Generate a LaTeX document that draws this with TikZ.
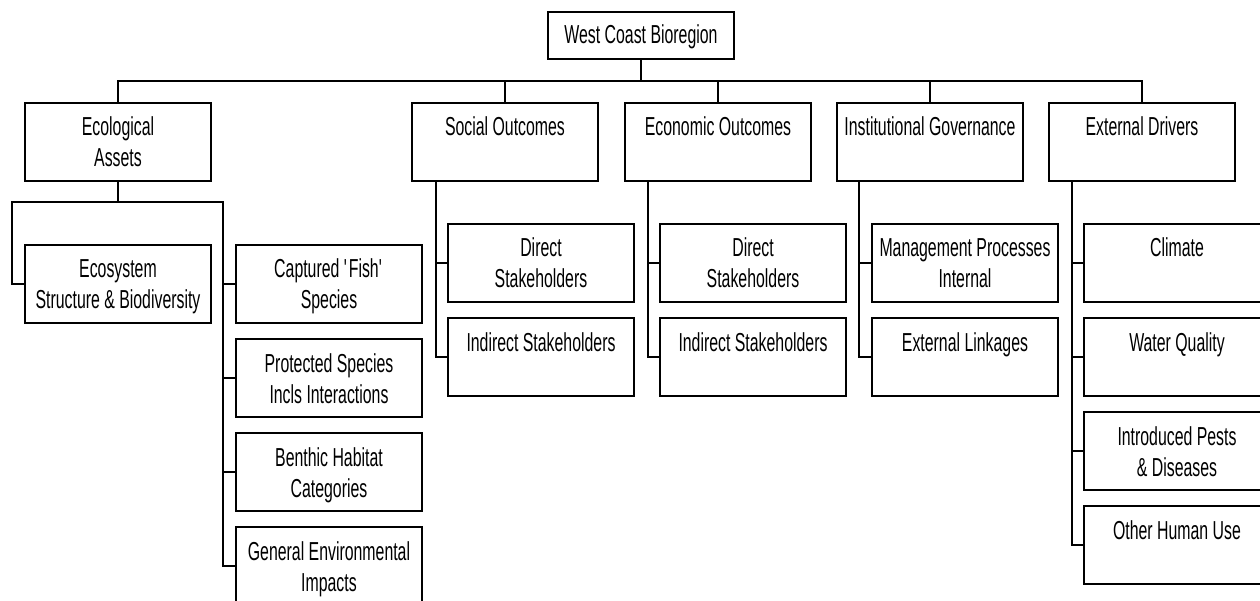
\documentclass[tikz,border=0pt]{standalone}
\usepackage{fontspec}
\setmainfont[FakeStretch=0.61]{Liberation Sans}
\newcommand\bxt[3]{\parbox[c][#1][t]{186pt}{\centering\rule{0pt}{#2}#3}}
\tikzset{
  box/.style={draw, line width=1.2pt, inner sep=0pt, outer sep=0pt, anchor=north west, fill=white,
    font=\fontsize{26}{31}\selectfont},
  conn/.style={line width=1.2pt}
}
\begin{document}
\begin{tikzpicture}[x=1pt,y=-1pt]
\useasboundingbox (0,0) rectangle (1260,601);
\clip (0,0) rectangle (1260,601);
% root
\node[box] (root) at (548,12) {\bxt{47pt}{32pt}{West Coast Bioregion}};
% level 1
\node[box] (eco) at (25,103) {\bxt{78pt}{33pt}{Ecological\\Assets}};
\node[box] (soc) at (412,103) {\bxt{78pt}{33pt}{Social Outcomes}};
\node[box] (econ) at (625,103) {\bxt{78pt}{33pt}{Economic Outcomes}};
\node[box] (inst) at (837,103) {\bxt{78pt}{33pt}{Institutional Governance}};
\node[box] (ext) at (1049,103) {\bxt{78pt}{33pt}{External Drivers}};
% ecological children
\node[box] (ecosys) at (25,245) {\bxt{78pt}{33pt}{Ecosystem\\Structure \& Biodiversity}};
\node[box] (fish) at (236,245) {\bxt{78pt}{33pt}{Captured \textquotesingle Fish\textquotesingle\\Species}};
\node[box] (prot) at (236,339) {\bxt{78pt}{33pt}{Protected Species\\Incls Interactions}};
\node[box] (benth) at (236,433) {\bxt{78pt}{33pt}{Benthic Habitat\\Categories}};
\node[box] (gen) at (236,527) {\bxt{78pt}{33pt}{General Environmental\\Impacts}};
% social children
\node[box] (sdir) at (448,224) {\bxt{78pt}{33pt}{Direct\\Stakeholders}};
\node[box] (sind) at (448,318) {\bxt{78pt}{33pt}{Indirect Stakeholders}};
% economic children
\node[box] (edir) at (660,224) {\bxt{78pt}{33pt}{Direct\\Stakeholders}};
\node[box] (eind) at (660,318) {\bxt{78pt}{33pt}{Indirect Stakeholders}};
% institutional children
\node[box] (imgmt) at (872,224) {\bxt{78pt}{33pt}{Management Processes\\Internal}};
\node[box] (ilink) at (872,318) {\bxt{78pt}{33pt}{External Linkages}};
% external children
\node[box] (clim) at (1084,224) {\bxt{78pt}{33pt}{Climate}};
\node[box] (water) at (1084,318) {\bxt{78pt}{33pt}{Water Quality}};
\node[box] (pests) at (1084,412) {\bxt{78pt}{33pt}{Introduced Pests\\\& Diseases}};
\node[box] (human) at (1084,506) {\bxt{78pt}{33pt}{Other Human Use}};
% coordinates
\coordinate (busy) at (0,81);
\coordinate (lx) at (12,202);
\coordinate (rx) at (223,566);
\coordinate (sx) at (436,0);
\coordinate (ex) at (648,0);
\coordinate (ix) at (859,0);
\coordinate (dx) at (1072,0);
% top bus
\draw[conn] (root.south) -- (root.south |- busy);
\draw[conn] (eco.north) |- (ext.north |- busy) -- (ext.north);
\draw[conn] (soc.north) -- (soc.north |- busy);
\draw[conn] (econ.north) -- (econ.north |- busy);
\draw[conn] (inst.north) -- (inst.north |- busy);
% ecological
\draw[conn] (eco.south) -- (eco.south |- lx);
\draw[conn] (ecosys.west) -| (lx) -| (rx) -- (gen.west);
\draw[conn] (fish.west) -- (fish.west -| rx);
\draw[conn] (prot.west) -- (prot.west -| rx);
\draw[conn] (benth.west) -- (benth.west -| rx);
% social
\draw[conn] (soc.south -| sx) |- (sind.west);
\draw[conn] (sdir.west) -- (sdir.west -| sx);
% economic
\draw[conn] (econ.south -| ex) |- (eind.west);
\draw[conn] (edir.west) -- (edir.west -| ex);
% institutional
\draw[conn] (inst.south -| ix) |- (ilink.west);
\draw[conn] (imgmt.west) -- (imgmt.west -| ix);
% external
\draw[conn] (ext.south -| dx) |- (human.west);
\draw[conn] (clim.west) -- (clim.west -| dx);
\draw[conn] (water.west) -- (water.west -| dx);
\draw[conn] (pests.west) -- (pests.west -| dx);
\end{tikzpicture}
\end{document}
